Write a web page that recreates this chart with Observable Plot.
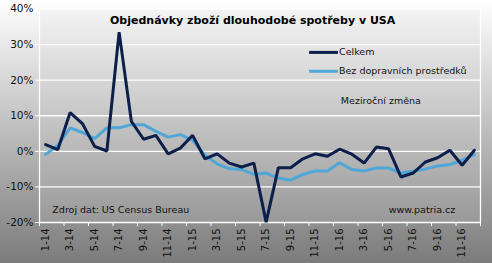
<!DOCTYPE html>
<html><head><meta charset="utf-8">
<script src="https://cdn.jsdelivr.net/npm/d3@7"></script>
<script src="https://cdn.jsdelivr.net/npm/@observablehq/plot@0.6"></script>
<style>
body{margin:0;width:492px;height:263px;overflow:hidden;background:linear-gradient(#ffffff,#7b7b7b);}
#chart svg{display:block}
</style>
</head><body><div id="chart"></div>
<script>
const months = ["1-14","2-14","3-14","4-14","5-14","6-14","7-14","8-14","9-14","10-14","11-14","12-14",
  "1-15","2-15","3-15","4-15","5-15","6-15","7-15","8-15","9-15","10-15","11-15","12-15",
  "1-16","2-16","3-16","4-16","5-16","6-16","7-16","8-16","9-16","10-16","11-16","12-16"];
const celkem = [1.9,0.5,10.9,7.8,1.4,0.1,33.5,8.4,3.4,4.5,-0.7,0.9,
  4.5,-2.1,-0.7,-3.3,-4.4,-3.3,-19.9,-4.6,-4.6,-2.1,-0.7,-1.4,
  0.6,-0.8,-3.3,1.2,0.7,-7.2,-6.1,-3.0,-1.8,0.3,-3.9,0.3];
const bezDopravy = [-0.9,1.7,6.6,5.3,3.6,6.6,6.6,7.5,7.5,5.6,4.0,4.7,
  3.1,-1.1,-3.5,-4.9,-5.1,-6.5,-6.1,-7.5,-8.1,-6.5,-5.5,-5.5,
  -3.2,-5.1,-5.5,-4.7,-4.7,-6.1,-5.6,-5.0,-4.1,-3.7,-2.5,-0.9];
const yTicks = [-20,-10,0,10,20,30,40];
const seriesNames = ["Celkem","Bez dopravních prostředků"];
const title = "Objednávky zboží dlouhodobé spotřeby v USA";
const note = "Meziroční změna";
const source = "Zdroj dat: US Census Bureau";
const site = "www.patria.cz";

const dark = "#0b1f4a", light = "#4fa7d7";
const font = "DejaVu Sans";

const defsMark = () => {
  const g = d3.create("svg:defs");
  const lg = g.append("linearGradient").attr("id","plotGrad").attr("x1",0).attr("y1",0).attr("x2",0).attr("y2",1);
  lg.append("stop").attr("offset","0%").attr("stop-color","#f4f4f4");
  lg.append("stop").attr("offset","100%").attr("stop-color","#999999");
  return g.node();
};

const chart = Plot.plot({
  width: 492, height: 263,
  marginLeft: 39, marginRight: 12, marginTop: 8.5, marginBottom: 41,
  style: {background: "transparent", fontFamily: font, color: "#111"},
  x: {type: "linear", domain: [0, 36], axis: null},
  y: {domain: [-20, 40], axis: null},
  marks: [
    defsMark,
    Plot.frame({fill: "url(#plotGrad)", stroke: null}),
    Plot.ruleY(yTicks, {stroke: "white", strokeWidth: 1.3}),
    Plot.ruleX([0, 36], {stroke: "white", strokeWidth: 1.3}),
    Plot.axisY({ticks: yTicks, tickFormat: d => `${d}%`, tickSize: 4, tickPadding: 2, stroke: "white", fill: "#111", fontSize: 10.5, fontFamily: font}),
    Plot.axisX({ticks: d3.range(0, 37, 2), tickSize: 4, tickFormat: () => "", stroke: "white"}),
    Plot.axisX({ticks: d3.range(0, 36, 2).map(i => i + 0.5), tickSize: 0, tickPadding: 6, tickRotate: -90,
      tickFormat: v => months[Math.round(v - 0.5)], fill: "#111", fontSize: 10, fontFamily: font}),
    Plot.line(bezDopravy, {x: (d, i) => i + 0.5, y: d => d, stroke: light, strokeWidth: 3, strokeLinejoin: "miter"}),
    Plot.line(celkem, {x: (d, i) => i + 0.5, y: d => d, stroke: dark, strokeWidth: 3, strokeLinejoin: "miter"}),
    Plot.text([title], {x: 17.4, y: 36.8, text: d => d, fontWeight: "bold", fontSize: 11, fill: "#000", letterSpacing: 0.6}),
    Plot.ruleY(seriesNames, {y: (d, i) => [27.8, 22.5][i], x1: 22.05, x2: 24.4, stroke: (d, i) => [dark, light][i], strokeWidth: 3}),
    Plot.text(seriesNames, {x: 24.45, y: (d, i) => [27.8, 22.5][i], text: d => d, textAnchor: "start", fontSize: 9.5, fill: "#111"}),
    Plot.text([note], {x: 24.6, y: 14.2, text: d => d, textAnchor: "start", fontSize: 9.5, fill: "#111"}),
    Plot.text([source], {x: 1.05, y: -16.6, text: d => d, textAnchor: "start", fontSize: 9.5, fill: "#111"}),
    Plot.text([site], {x: 28.5, y: -16.6, text: d => d, textAnchor: "start", fontSize: 9.5, fill: "#111"})
  ]
});
document.getElementById("chart").append(chart);
</script>
</body></html>
